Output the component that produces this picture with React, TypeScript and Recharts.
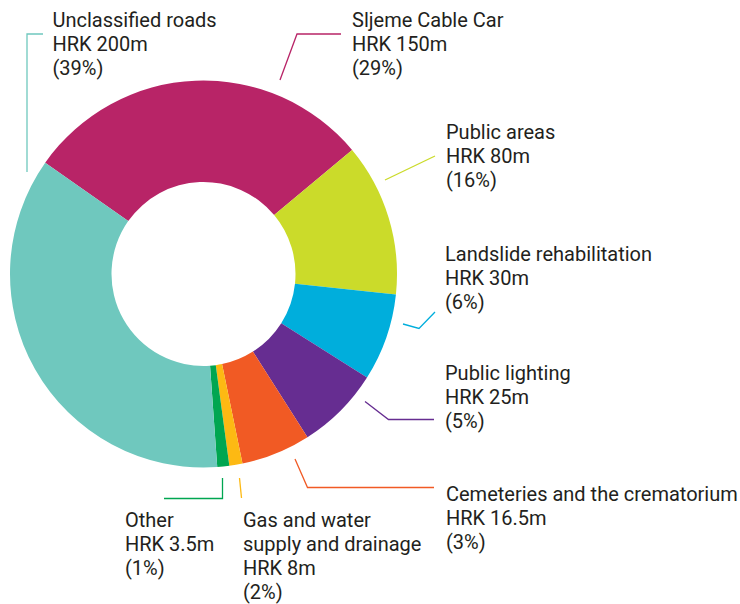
import React from "react";
import { PieChart, Pie, Cell } from "recharts";

// Categories in clockwise order starting from the top-left boundary
const categories = [
  "Sljeme Cable Car",
  "Public areas",
  "Landslide rehabilitation",
  "Public lighting",
  "Cemeteries and the crematorium",
  "Gas and water supply and drainage",
  "Other",
  "Unclassified roads",
];
// Drawn slice shares (%)
const shares = [29.2, 12.75, 7.3, 7.0, 5.8, 1.1, 1.0, 35.9];
// Label text lines
const labelLines = [
  ["Sljeme Cable Car", "HRK 150m", "(29%)"],
  ["Public areas", "HRK 80m", "(16%)"],
  ["Landslide rehabilitation", "HRK 30m", "(6%)"],
  ["Public lighting", "HRK 25m", "(5%)"],
  ["Cemeteries and the crematorium", "HRK 16.5m", "(3%)"],
  ["Gas and water", "supply and drainage", "HRK 8m", "(2%)"],
  ["Other", "HRK 3.5m", "(1%)"],
  ["Unclassified roads", "HRK 200m", "(39%)"],
];

const colors = [
  "#B82467",
  "#CBDB2A",
  "#00AEDC",
  "#662D91",
  "#F15A24",
  "#FDB913",
  "#00A651",
  "#6FC8BE",
];

// Layout (annotation positions)
const textPos: [number, number][] = [
  [352, 26.5],
  [446, 138.5],
  [445, 260.5],
  [445, 379.5],
  [446, 500.5],
  [243, 526.5],
  [125, 526.5],
  [52.5, 26.5],
];
const leaderPaths: string[] = [
  "M280,80 L297,34 L341,34",
  "M385,180 L435,156",
  "M403,324 L419,328.5 L435,312",
  "M365,401.5 L388.5,419.5 L434,419.5",
  "M295,459 L307.5,487.5 L434,487.5",
  "M239.5,478 L241.5,498",
  "M222.5,478 L222.5,498.5 L164,498.5",
  "M27,172 L27,34 L43,34",
];

const data = categories.map((name, i) => ({ name, value: shares[i] }));

const LINE_H = 24;

const renderLabel = (props: any) => {
  const i = props.index;
  const [x, y] = textPos[i];
  return (
    <g key={`lbl-${i}`}>
      <path d={leaderPaths[i]} stroke={colors[i]} strokeWidth={1.3} fill="none" />
      <text
        x={x}
        y={y}
        fill="#231F20"
        fontSize={20}
        fontFamily="Roboto, 'Noto Sans', sans-serif"
        fontWeight={400}
      >
        {labelLines[i].map((t, k) => (
          <tspan key={k} x={x} y={y + k * LINE_H}>
            {t}
          </tspan>
        ))}
      </text>
    </g>
  );
};

export default function App() {
  return (
    <div
      style={{
        position: "absolute",
        top: 0,
        left: 0,
        width: 740,
        height: 604,
        background: "#fff",
        overflow: "visible",
      }}
    >
      <PieChart
        width={740}
        height={604}
        margin={{ top: 0, right: 0, bottom: 0, left: 0 }}
        style={{ overflow: "visible" }}
      >
        <Pie
          data={data}
          dataKey="value"
          nameKey="name"
          cx={203.5}
          cy={274}
          innerRadius={92}
          outerRadius={193.5}
          startAngle={144.9}
          endAngle={-215.1}
          paddingAngle={0}
          stroke="none"
          label={renderLabel}
          labelLine={false}
          isAnimationActive={false}
        >
          {data.map((d, i) => (
            <Cell key={d.name} fill={colors[i]} />
          ))}
        </Pie>
      </PieChart>
    </div>
  );
}
